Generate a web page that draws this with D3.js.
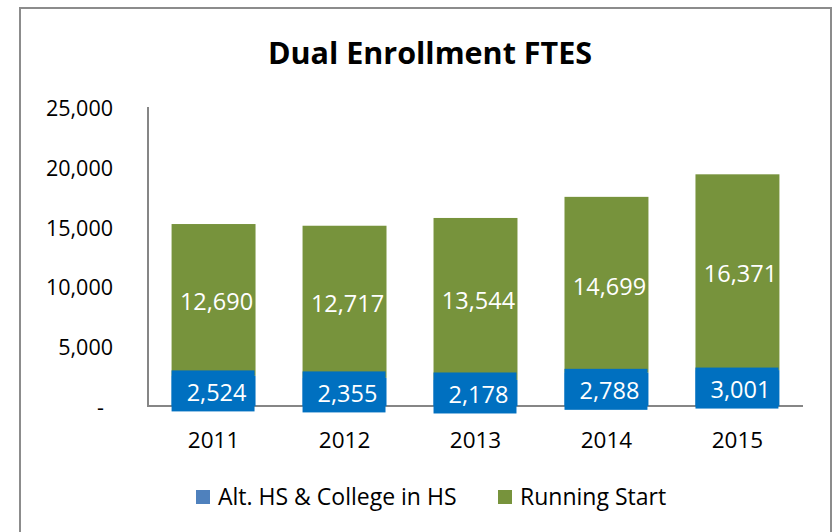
<!DOCTYPE html>
<html>
<head>
<meta charset="utf-8">
<script src="https://cdn.jsdelivr.net/npm/d3@7"></script>
<style>
  html, body { margin: 0; padding: 0; background: #fff; }
  svg { display: block; font-family: "Open Sans", Lato, sans-serif; }
</style>
</head>
<body>
<div id="chart"></div>
<script>
// Datos del gráfico
const years = ["2011", "2012", "2013", "2014", "2015"];
const altHS = [2524, 2355, 2178, 2788, 3001];
const runningStart = [12690, 12717, 13544, 14699, 16371];
const yTicks = [0, 5000, 10000, 15000, 20000, 25000];
const seriesNames = ["Alt. HS & College in HS", "Running Start"];

const W = 836, H = 532;
const svg = d3.select("#chart").append("svg")
  .attr("width", W)
  .attr("height", H);

// Marco del gráfico
svg.append("rect")
  .attr("x", 20).attr("y", 8)
  .attr("width", 811).attr("height", 540)
  .attr("fill", "#fff")
  .attr("stroke", "#8c8c8c")
  .attr("stroke-width", 2);

// Título
svg.append("text")
  .attr("x", 430).attr("y", 64)
  .attr("text-anchor", "middle")
  .style("font-size", "30.5px")
  .style("font-weight", "bold")
  .attr("fill", "#000")
  .text("Dual Enrollment FTES");

// Escalas
const x = d3.scaleBand()
  .domain(years)
  .range([148, 803])
  .paddingInner(0.359)
  .paddingOuter(0.18);

const y = d3.scaleLinear()
  .domain([0, 25000])
  .range([406, 107]);

const fmt = d3.format(",");

// Etiquetas del eje Y
svg.selectAll(".ytick")
  .data(yTicks)
  .enter().append("text")
  .attr("class", "ytick")
  .attr("x", d => d === 0 ? 104 : 113)
  .attr("y", d => y(d) + 9)
  .attr("text-anchor", "end")
  .style("font-size", "21.5px")
  .attr("fill", "#000")
  .text(d => d === 0 ? "-" : fmt(d));

// Ejes
svg.append("line")
  .attr("x1", 148).attr("x2", 148)
  .attr("y1", y(25000)).attr("y2", y(0))
  .attr("stroke", "#868686").attr("stroke-width", 2);
svg.append("line")
  .attr("x1", 147).attr("x2", 803)
  .attr("y1", y(0)).attr("y2", y(0))
  .attr("stroke", "#868686").attr("stroke-width", 2);

// Etiquetas del eje X
svg.selectAll(".xtick")
  .data(years)
  .enter().append("text")
  .attr("class", "xtick")
  .attr("x", d => x(d) + x.bandwidth() / 2)
  .attr("y", 448)
  .attr("text-anchor", "middle")
  .style("font-size", "22.5px")
  .attr("fill", "#000")
  .text(d => d);

const rows = years.map((yr, i) => ({ year: yr, alt: altHS[i], rs: runningStart[i] }));

// Segmento verde (Running Start)
svg.selectAll(".rs")
  .data(rows)
  .enter().append("rect")
  .attr("class", "rs")
  .attr("x", d => x(d.year))
  .attr("width", x.bandwidth())
  .attr("y", d => y(d.alt + d.rs))
  .attr("height", d => y(d.alt) - y(d.alt + d.rs))
  .attr("fill", "#77933c");

// Segmento azul (Alt. HS)
svg.selectAll(".alt")
  .data(rows)
  .enter().append("rect")
  .attr("class", "alt")
  .attr("x", d => x(d.year))
  .attr("width", x.bandwidth())
  .attr("y", d => y(d.alt))
  .attr("height", d => y(0) - y(d.alt))
  .attr("fill", "#0070c0");

// Cajas de etiqueta azules (más altas que el segmento)
const boxH = 41;
svg.selectAll(".altbox")
  .data(rows)
  .enter().append("rect")
  .attr("class", "altbox")
  .attr("x", d => x(d.year))
  .attr("width", x.bandwidth() - 1)
  .attr("y", d => (y(0) + y(d.alt)) / 2 - boxH / 2)
  .attr("height", boxH)
  .attr("fill", "#0070c0");

// Etiquetas de datos (un poco desplazadas a la derecha, como en Excel)
const labelDx = 3;
svg.selectAll(".altlabel")
  .data(rows)
  .enter().append("text")
  .attr("class", "altlabel")
  .attr("x", d => x(d.year) + x.bandwidth() / 2 + labelDx)
  .attr("y", d => (y(0) + y(d.alt)) / 2 + 10)
  .attr("text-anchor", "middle")
  .style("font-size", "23.5px")
  .attr("fill", "#fff")
  .text(d => fmt(d.alt));

svg.selectAll(".rslabel")
  .data(rows)
  .enter().append("text")
  .attr("class", "rslabel")
  .attr("x", d => x(d.year) + x.bandwidth() / 2 + labelDx)
  .attr("y", d => (y(d.alt) + y(d.alt + d.rs)) / 2 + 10)
  .attr("text-anchor", "middle")
  .style("font-size", "23.5px")
  .attr("fill", "#fff")
  .text(d => fmt(d.rs));

// Leyenda
const legendItems = [
  { name: seriesNames[0], color: "#4f81bd", x: 196 },
  { name: seriesNames[1], color: "#77933c", x: 498 }
];
const lg = svg.selectAll(".legend")
  .data(legendItems)
  .enter().append("g")
  .attr("class", "legend")
  .attr("transform", d => `translate(${d.x},490)`);
lg.append("rect")
  .attr("width", 14).attr("height", 14)
  .attr("fill", d => d.color);
lg.append("text")
  .attr("x", 22).attr("y", 15)
  .style("font-size", "23px")
  .attr("fill", "#000")
  .text(d => d.name);
</script>
</body>
</html>
